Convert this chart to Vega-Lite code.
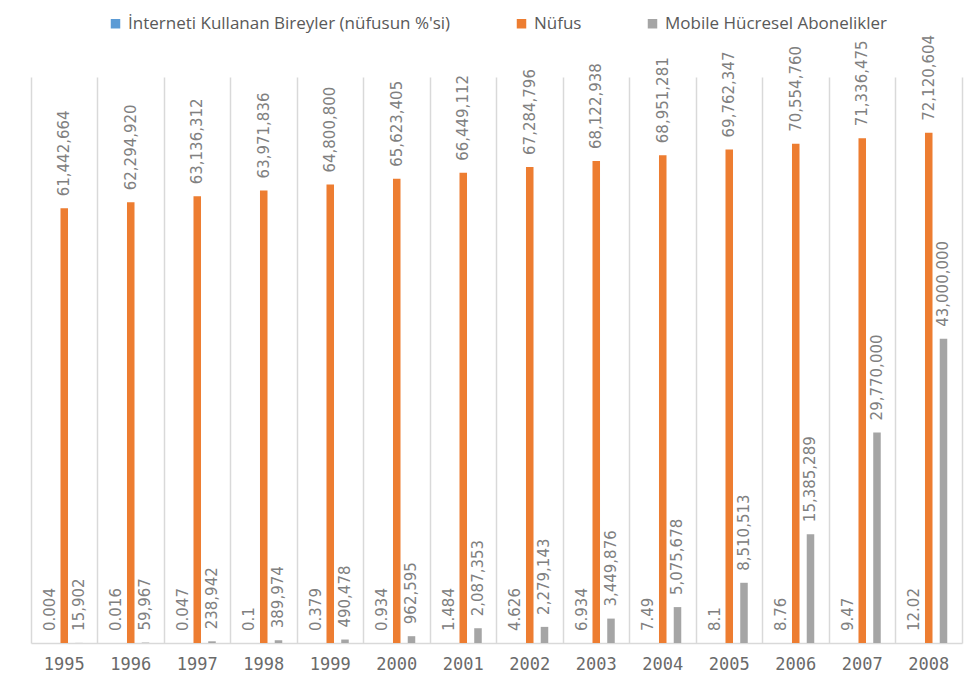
{
  "$schema": "https://vega.github.io/schema/vega-lite/v6.json",
  "autosize": "none",
  "width": 931,
  "height": 566,
  "padding": {"left": 31, "top": 77, "right": 14, "bottom": 52},
  "background": "white",
  "config": {"view": {"stroke": null}, "font": "Liberation Sans"},
  "data": {
    "values": [
      {"year": "1995", "series": "İnterneti Kullanan Bireyler (nüfusun %'si)", "value": 0.004},
      {"year": "1995", "series": "Nüfus", "value": 61442664},
      {"year": "1995", "series": "Mobile Hücresel Abonelikler", "value": 15902},
      {"year": "1996", "series": "İnterneti Kullanan Bireyler (nüfusun %'si)", "value": 0.016},
      {"year": "1996", "series": "Nüfus", "value": 62294920},
      {"year": "1996", "series": "Mobile Hücresel Abonelikler", "value": 59967},
      {"year": "1997", "series": "İnterneti Kullanan Bireyler (nüfusun %'si)", "value": 0.047},
      {"year": "1997", "series": "Nüfus", "value": 63136312},
      {"year": "1997", "series": "Mobile Hücresel Abonelikler", "value": 238942},
      {"year": "1998", "series": "İnterneti Kullanan Bireyler (nüfusun %'si)", "value": 0.1},
      {"year": "1998", "series": "Nüfus", "value": 63971836},
      {"year": "1998", "series": "Mobile Hücresel Abonelikler", "value": 389974},
      {"year": "1999", "series": "İnterneti Kullanan Bireyler (nüfusun %'si)", "value": 0.379},
      {"year": "1999", "series": "Nüfus", "value": 64800800},
      {"year": "1999", "series": "Mobile Hücresel Abonelikler", "value": 490478},
      {"year": "2000", "series": "İnterneti Kullanan Bireyler (nüfusun %'si)", "value": 0.934},
      {"year": "2000", "series": "Nüfus", "value": 65623405},
      {"year": "2000", "series": "Mobile Hücresel Abonelikler", "value": 962595},
      {"year": "2001", "series": "İnterneti Kullanan Bireyler (nüfusun %'si)", "value": 1.484},
      {"year": "2001", "series": "Nüfus", "value": 66449112},
      {"year": "2001", "series": "Mobile Hücresel Abonelikler", "value": 2087353},
      {"year": "2002", "series": "İnterneti Kullanan Bireyler (nüfusun %'si)", "value": 4.626},
      {"year": "2002", "series": "Nüfus", "value": 67284796},
      {"year": "2002", "series": "Mobile Hücresel Abonelikler", "value": 2279143},
      {"year": "2003", "series": "İnterneti Kullanan Bireyler (nüfusun %'si)", "value": 6.934},
      {"year": "2003", "series": "Nüfus", "value": 68122938},
      {"year": "2003", "series": "Mobile Hücresel Abonelikler", "value": 3449876},
      {"year": "2004", "series": "İnterneti Kullanan Bireyler (nüfusun %'si)", "value": 7.49},
      {"year": "2004", "series": "Nüfus", "value": 68951281},
      {"year": "2004", "series": "Mobile Hücresel Abonelikler", "value": 5075678},
      {"year": "2005", "series": "İnterneti Kullanan Bireyler (nüfusun %'si)", "value": 8.1},
      {"year": "2005", "series": "Nüfus", "value": 69762347},
      {"year": "2005", "series": "Mobile Hücresel Abonelikler", "value": 8510513},
      {"year": "2006", "series": "İnterneti Kullanan Bireyler (nüfusun %'si)", "value": 8.76},
      {"year": "2006", "series": "Nüfus", "value": 70554760},
      {"year": "2006", "series": "Mobile Hücresel Abonelikler", "value": 15385289},
      {"year": "2007", "series": "İnterneti Kullanan Bireyler (nüfusun %'si)", "value": 9.47},
      {"year": "2007", "series": "Nüfus", "value": 71336475},
      {"year": "2007", "series": "Mobile Hücresel Abonelikler", "value": 29770000},
      {"year": "2008", "series": "İnterneti Kullanan Bireyler (nüfusun %'si)", "value": 12.02},
      {"year": "2008", "series": "Nüfus", "value": 72120604},
      {"year": "2008", "series": "Mobile Hücresel Abonelikler", "value": 43000000}
    ]
  },
  "encoding": {
    "x": {
      "field": "year", "type": "nominal", "sort": null, "title": null,
      "scale": {"paddingInner": 0, "paddingOuter": 0},
      "axis": {
        "bandPosition": 0, "grid": true, "gridColor": "#d9d9d9", "gridWidth": 1.5,
        "ticks": false, "domainColor": "#d9d9d9", "domainWidth": 1.5,
        "labelAngle": 0, "labelFontSize": 17, "labelColor": "#6a6a6a",
        "labelPadding": 13, "labelFont": "DejaVu Sans Mono", "labelBaseline": "top"
      }
    },
    "xOffset": {
      "field": "series", "type": "nominal",
      "sort": ["İnterneti Kullanan Bireyler (nüfusun %'si)", "Nüfus", "Mobile Hücresel Abonelikler"],
      "scale": {"paddingInner": 0.49, "paddingOuter": 1.17}
    },
    "y": {
      "field": "value", "type": "quantitative",
      "scale": {"domain": [0, 80000000], "nice": false},
      "axis": {
        "orient": "right", "labels": false, "ticks": false, "grid": false,
        "title": null, "domainColor": "#d9d9d9", "domainWidth": 1.5
      }
    }
  },
  "layer": [
    {
      "mark": {"type": "bar"},
      "encoding": {
        "color": {
          "field": "series", "type": "nominal",
          "sort": ["İnterneti Kullanan Bireyler (nüfusun %'si)", "Nüfus", "Mobile Hücresel Abonelikler"],
          "scale": {
            "domain": ["İnterneti Kullanan Bireyler (nüfusun %'si)", "Nüfus", "Mobile Hücresel Abonelikler"],
            "range": ["#5B9BD5", "#ED7D31", "#A5A5A5"]
          },
          "legend": {
            "orient": "none", "direction": "horizontal", "title": null,
            "legendX": 76, "legendY": -62,
            "symbolType": "square", "symbolSize": 90, "symbolStrokeWidth": 0,
            "labelFontSize": 17, "labelColor": "#595959", "labelFont": "Open Sans",
            "columnPadding": 62, "labelLimit": 450
          }
        }
      }
    },
    {
      "mark": {
        "type": "text", "angle": 270, "align": "left", "baseline": "middle",
        "dx": 12, "fontSize": 15, "color": "#808080", "font": "DejaVu Sans"
      },
      "encoding": {
        "text": {"field": "value", "type": "quantitative", "format": ","}
      }
    }
  ]
}
